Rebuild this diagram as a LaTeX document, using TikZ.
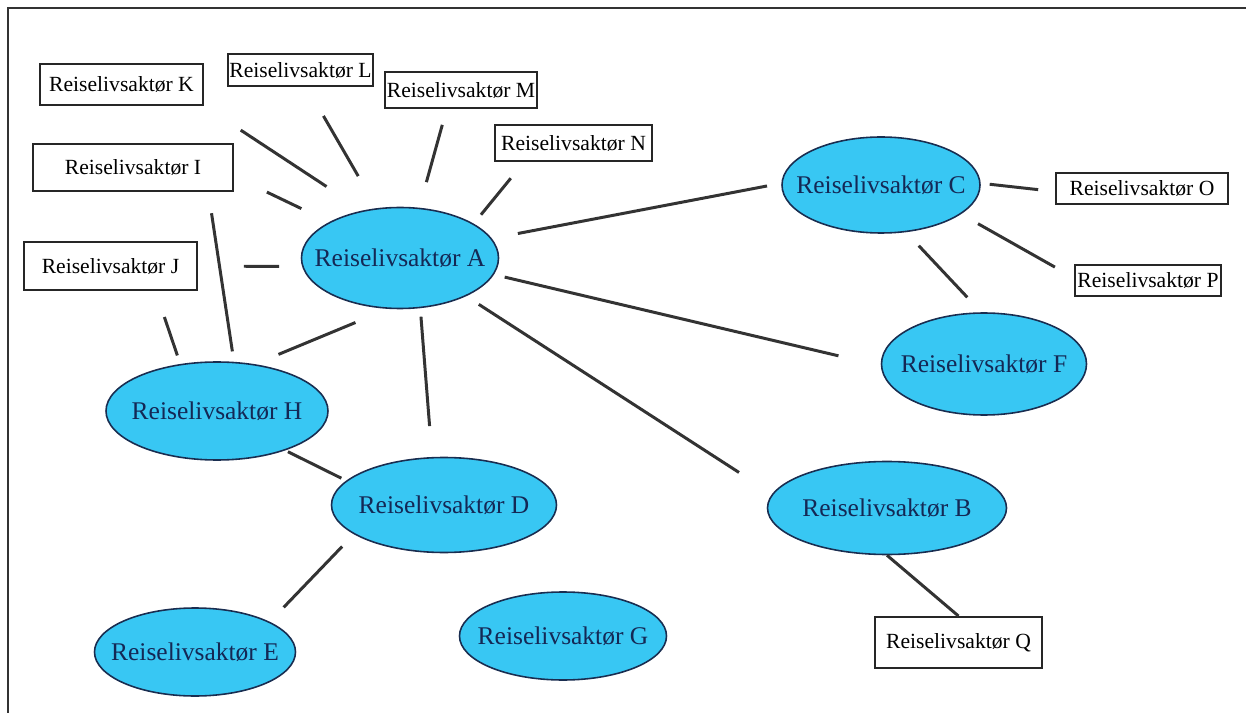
\documentclass[tikz,border=0pt]{standalone}
\usepackage{fontspec}
\setmainfont{Liberation Serif}
\usetikzlibrary{shapes,positioning}
\definecolor{actorblue}{RGB}{56,199,243}
\definecolor{actorline}{RGB}{25,45,80}
\definecolor{actortext}{RGB}{20,40,85}
\tikzset{
    actor-point/.style={
        ellipse,
        draw=actorline,
        fill=actorblue,
        text=actortext,
        line width=0.9pt,
        inner xsep=-4mm,
        inner ysep=0pt,
        font=\fontsize{14.5}{17}\selectfont
    },
    box-point/.style={
        rectangle,
        draw=black!85,
        line width=1.1pt,
        inner sep=0pt,
        font=\fontsize{12.3}{14}\selectfont
    },
    every edge/.style={
        draw=black!80,
        line width=1.7pt
    },
}

\begin{document}
\begin{tikzpicture}[x=0.2mm,y=-0.2mm]
       \useasboundingbox (0,0) rectangle (1246,713);
       \draw[line width=1.3pt,black!80] (8,713) -- (8,8) -- (1246,8);

       \node[actor-point,minimum width=39.4mm,minimum height=20.2mm] (a) at (400,258) {Reiselivsaktør A};
       \node[actor-point,minimum width=47.8mm,minimum height=18.6mm] (b) at (887,508) {Reiselivsaktør B};
       \node[actor-point,minimum width=39.6mm,minimum height=19.2mm] (c) at (881,185) {Reiselivsaktør C};
       \node[actor-point,minimum width=45mm,minimum height=19mm] (d) at (444,505) {Reiselivsaktør D};
       \node[actor-point,minimum width=40.2mm,minimum height=17.6mm] (e) at (195,652) {Reiselivsaktør E};
       \node[actor-point,minimum width=41mm,minimum height=20.4mm] (f) at (984,364) {Reiselivsaktør F};
       \node[actor-point,minimum width=41.4mm,minimum height=17.6mm] (g) at (563,636) {Reiselivsaktør G};
       \node[actor-point,minimum width=44.4mm,minimum height=19.6mm] (h) at (217,411) {Reiselivsaktør H};

       \node[box-point,minimum width=40mm,minimum height=9.4mm] (i) at (133,167.5) {Reiselivsaktør I};
       \node[box-point,minimum width=34.6mm,minimum height=9.6mm] (j) at (110.5,266) {Reiselivsaktør J};
       \node[box-point,minimum width=32.6mm,minimum height=8.2mm] (k) at (121.5,84.5) {Reiselivsaktør K};
       \node[box-point,minimum width=29mm,minimum height=6.4mm] (l) at (300.5,70) {Reiselivsaktør L};
       \node[box-point,minimum width=30.4mm,minimum height=7.2mm] (m) at (461,90) {Reiselivsaktør M};
       \node[box-point,minimum width=31.4mm,minimum height=7.2mm] (n) at (573.5,143) {Reiselivsaktør N};
       \node[box-point,minimum width=34.4mm,minimum height=6.2mm] (o) at (1142,188.5) {Reiselivsaktør O};
       \node[box-point,minimum width=29.2mm,minimum height=6.2mm] (p) at (1148,280.5) {Reiselivsaktør P};
       \node[box-point,minimum width=33.4mm,minimum height=10.2mm] (q) at (958.5,642.5) {Reiselivsaktør Q};

       \draw (k.south east) edge[shorten <=8.8mm,shorten >=8.7mm] (a.128);
       \draw (l.-70) edge[shorten <=6.7mm,shorten >=7.4mm] (a.115);
       \draw (m.-127) edge[shorten <=3.3mm,shorten >=5.3mm] (a.69);
       \draw (n.-159) edge[shorten <=4.2mm,shorten >=2.3mm] (a.25);
       \draw (i.-5) edge[shorten <=7.3mm,shorten >=6.2mm] (a.153);
       \draw (j.east) edge[shorten <=9.2mm,shorten >=4.6mm] (a.185);
       \draw (i.-18) edge[shorten <=4.3mm,shorten >=2.1mm] (h.71);
       \draw (j.-29) edge[shorten <=5.5mm,shorten >=1.8mm] (h.128);
       \draw (a.-103) edge[shorten <=7.1mm,shorten >=5.1mm] (h.51);
       \draw (a.-68) edge[shorten <=1.7mm,shorten >=6.2mm] (d.104);
       \draw (h.-30) edge[shorten <=0.6mm,shorten >=1.1mm] (d.166);
       \draw (d.198) edge[shorten <=3.4mm,shorten >=4mm] (e.22);
       \draw (a.-30) edge[shorten <=3mm,shorten >=7.9mm] (b.173);
       \draw (a.-10) edge[shorten <=2.2mm,shorten >=8.7mm] (f.181);
       \draw (a.12) edge[shorten <=5.3mm,shorten >=2.9mm] (c.179);
       \draw (c.1) edge[shorten <=1.8mm,shorten >=3.4mm] (o.182);
       \draw (c.-20) edge[shorten <=3.9mm,shorten >=4.4mm] (p.178);
       \draw (c.-62) edge[shorten <=3.7mm,shorten >=4.1mm] (f.93);
       \draw (b.south) edge (q.north);
\end{tikzpicture}
\end{document}
